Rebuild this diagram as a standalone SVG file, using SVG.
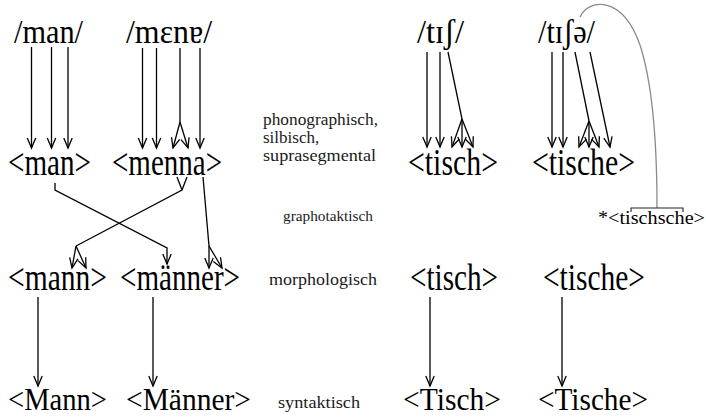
<svg xmlns="http://www.w3.org/2000/svg" width="706" height="417" viewBox="0 0 706 417">
<style>
.t{font-family:'Liberation Serif',serif;fill:#000}
.l{font-family:'Liberation Serif',serif;fill:#1a1a1a}
.c{fill:none;stroke:#000;stroke-width:1.3}
.a{marker-end:url(#ah)}
.g{fill:none;stroke:#8a8a8a;stroke-width:1.3}
</style>
<defs>
<marker id="ah" markerUnits="userSpaceOnUse" viewBox="0 0 10 10" refX="10" refY="5" markerWidth="10" markerHeight="10" orient="auto" overflow="visible"><path d="M0,0.8 L10,5 L0,9.2" fill="none" stroke="#000" stroke-width="1.3"/></marker>
</defs>
<rect width="706" height="417" fill="#fff"/>

<g id="connectors">
  <path class="c a" d="M31.5,47 V148"/>
  <path class="c a" d="M51.5,47 V148"/>
  <path class="c a" d="M68,47 V148"/>
  <path class="c a" d="M142.5,48 V148"/>
  <path class="c a" d="M156.5,48 V148"/>
  <path class="c" d="M180,48 V122"/>
  <path class="c a" d="M180,122 L173,148"/>
  <path class="c a" d="M180,122 L188,148"/>
  <path class="c a" d="M200,48 V148"/>
  <path class="c a" d="M427,52 V147"/>
  <path class="c a" d="M440,52 V147"/>
  <path class="c" d="M448,52 L462,119"/>
  <path class="c a" d="M462,119 L452,147"/>
  <path class="c a" d="M462,119 L462,147"/>
  <path class="c a" d="M462,119 L473,147"/>
  <path class="c a" d="M552,52 V147"/>
  <path class="c a" d="M563,52 V147"/>
  <path class="c" d="M575,52 L589,121"/>
  <path class="c a" d="M589,121 L579,147"/>
  <path class="c a" d="M589,121 L589,147"/>
  <path class="c a" d="M589,121 L599,147"/>
  <path class="c a" d="M590,52 L610,147"/>
  <path class="c a" d="M55,183 L55,190 L167,248 L167,264"/>
  <path class="c" d="M177,177 L182,190 M187,177 L182,190 L76,246"/>
  <path class="c a" d="M76,246 L72,268"/>
  <path class="c a" d="M76,246 L86,268"/>
  <path class="c" d="M203,177 L209,246"/>
  <path class="c a" d="M209,246 L209,268"/>
  <path class="c a" d="M209,246 L222,268"/>
  <path class="c a" d="M38,297 V386"/>
  <path class="c a" d="M153,297 V386"/>
  <path class="c a" d="M430,297 V386"/>
  <path class="c a" d="M562,297 V386"/>
  <path class="g" d="M580,17 C588,-1 622,-6 640,45 C652,82 657,140 657,208"/>
  <path class="c" style="stroke:#222;stroke-width:1.1" d="M631,212 V208 H683 V212"/>
</g>

<g id="n_man_ph"><text class="t" x="14" y="43" font-size="33" textLength="69" lengthAdjust="spacingAndGlyphs">/man/</text></g>
<g id="n_mene_ph"><text class="t" x="126" y="43" font-size="33" textLength="86" lengthAdjust="spacingAndGlyphs">/mɛnɐ/</text></g>
<g id="n_tisch_ph"><text class="t" x="417" y="43" font-size="33" textLength="47" lengthAdjust="spacingAndGlyphs">/tɪʃ/</text></g>
<g id="n_tische_ph"><text class="t" x="538" y="43" font-size="33" textLength="57" lengthAdjust="spacingAndGlyphs">/tɪʃə/</text></g>

<g id="n_man_gr"><text class="t" x="8" y="175" font-size="38" textLength="83" lengthAdjust="spacingAndGlyphs">&lt;man&gt;</text></g>
<g id="n_menna_gr"><text class="t" x="112" y="175" font-size="38" textLength="110" lengthAdjust="spacingAndGlyphs">&lt;menna&gt;</text></g>
<g id="n_tisch_gr"><text class="t" x="408" y="175" font-size="38" textLength="90" lengthAdjust="spacingAndGlyphs">&lt;tisch&gt;</text></g>
<g id="n_tische_gr"><text class="t" x="532" y="175" font-size="38" textLength="103" lengthAdjust="spacingAndGlyphs">&lt;tische&gt;</text></g>

<g id="n_tischsche"><text class="t" x="598" y="224" font-size="19" textLength="107" lengthAdjust="spacingAndGlyphs">*&lt;tischsche&gt;</text></g>

<g id="n_mann_mo"><text class="t" x="8" y="290" font-size="37" textLength="99" lengthAdjust="spacingAndGlyphs">&lt;mann&gt;</text></g>
<g id="n_maenner_mo"><text class="t" x="120" y="290" font-size="37" textLength="120" lengthAdjust="spacingAndGlyphs">&lt;männer&gt;</text></g>
<g id="n_tisch_mo"><text class="t" x="410" y="290" font-size="37" textLength="88" lengthAdjust="spacingAndGlyphs">&lt;tisch&gt;</text></g>
<g id="n_tische_mo"><text class="t" x="543" y="290" font-size="37" textLength="102" lengthAdjust="spacingAndGlyphs">&lt;tische&gt;</text></g>

<g id="n_Mann_sy"><text class="t" x="8" y="410" font-size="32" textLength="99" lengthAdjust="spacingAndGlyphs">&lt;Mann&gt;</text></g>
<g id="n_Maenner_sy"><text class="t" x="126" y="410" font-size="32" textLength="125" lengthAdjust="spacingAndGlyphs">&lt;Männer&gt;</text></g>
<g id="n_Tisch_sy"><text class="t" x="403" y="410" font-size="32" textLength="98" lengthAdjust="spacingAndGlyphs">&lt;Tisch&gt;</text></g>
<g id="n_Tische_sy"><text class="t" x="538" y="410" font-size="32" textLength="110" lengthAdjust="spacingAndGlyphs">&lt;Tische&gt;</text></g>

<g id="lbl_phono">
  <text class="l" x="263" y="125" font-size="17" textLength="115" lengthAdjust="spacingAndGlyphs">phonographisch,</text>
  <text class="l" x="263" y="143" font-size="17">silbisch,</text>
  <text class="l" x="263" y="161" font-size="17" textLength="113" lengthAdjust="spacingAndGlyphs">suprasegmental</text>
</g>
<g id="lbl_grapho"><text class="l" x="283" y="221" font-size="14.5" textLength="90" lengthAdjust="spacingAndGlyphs">graphotaktisch</text></g>
<g id="lbl_morph"><text class="l" x="269" y="285" font-size="17.5" textLength="108" lengthAdjust="spacingAndGlyphs">morphologisch</text></g>
<g id="lbl_synt"><text class="l" x="278" y="408" font-size="16.5" textLength="82" lengthAdjust="spacingAndGlyphs">syntaktisch</text></g>
</svg>
